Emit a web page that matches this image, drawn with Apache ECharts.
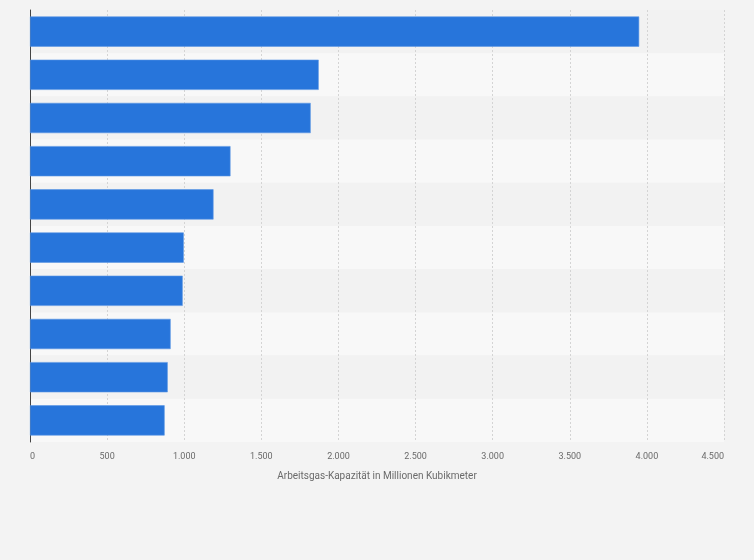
<!DOCTYPE html>
<html>
<head>
<meta charset="utf-8">
<script src="https://cdn.jsdelivr.net/npm/echarts@6/dist/echarts.min.js"></script>
<style>
html,body{margin:0;padding:0;background:#f3f3f3;}
#c{width:754px;height:560px;}
</style>
</head>
<body>
<div id="c"></div>
<script>
const categories = ['1','2','3','4','5','6','7','8','9','10'];
const values = [3950, 1872, 1820, 1300, 1190, 997, 990, 912, 893, 873];
const axisName = 'Arbeitsgas-Kapazität in Millionen Kubikmeter';

function fmt(v){
  return String(v).replace(/\B(?=(\d{3})+(?!\d))/g, '.');
}

const chart = echarts.init(document.getElementById('c'));
chart.setOption({
  backgroundColor: '#f3f3f3',
  animation: false,
  grid: {left: 30, right: 30, top: 10, bottom: 118, containLabel: false},
  xAxis: {
    type: 'value',
    min: 0, max: 4500, interval: 500,
    name: axisName,
    nameLocation: 'middle',
    nameGap: 29,
    nameTextStyle: {color: '#6a6a6a', fontSize: 10, fontFamily: 'Roboto'},
    axisLine: {show: false},
    axisTick: {show: false},
    axisLabel: {
      color: '#6a6a6a', fontSize: 9, fontFamily: 'Roboto', margin: 10,
      formatter: fmt, alignMinLabel: 'left', alignMaxLabel: 'right'
    },
    splitLine: {show: true, lineStyle: {color: '#d4d4d4', type: [2, 2], width: 1}}
  },
  yAxis: {
    type: 'category',
    data: categories,
    inverse: true,
    axisLine: {show: true, lineStyle: {color: '#444', width: 1}},
    axisTick: {show: false},
    axisLabel: {show: false},
    splitArea: {show: true, areaStyle: {color: ['#f2f2f2', '#f8f8f8']}}
  },
  series: [{
    type: 'bar',
    data: values,
    barCategoryGap: '30%',
    itemStyle: {color: '#2775db', borderColor: '#5a95e4', borderWidth: 0.6}
  }]
});
</script>
</body>
</html>
